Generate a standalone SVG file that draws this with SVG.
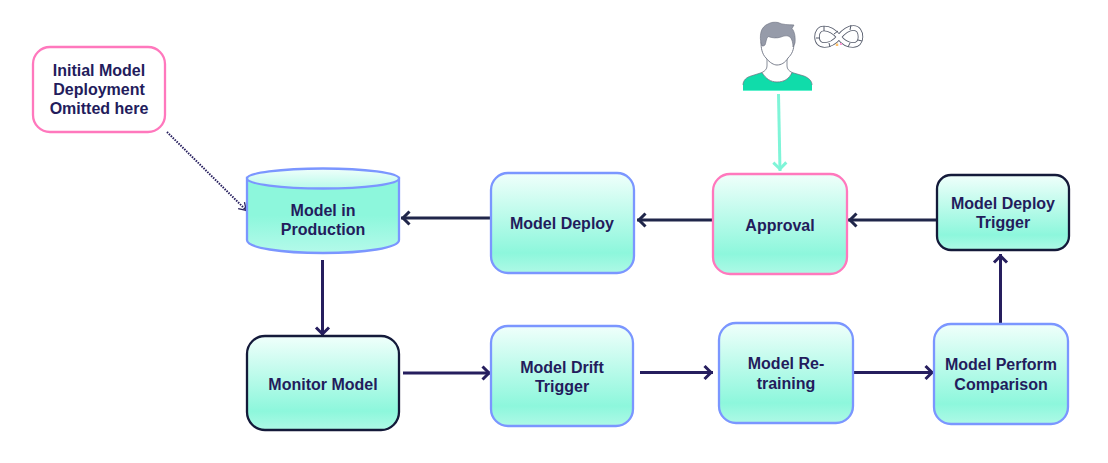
<svg xmlns="http://www.w3.org/2000/svg" width="1108" height="463" viewBox="0 0 1108 463">
<style>
.t{font-family:"Liberation Sans",Arial,sans-serif;font-weight:700;font-size:16px;fill:#231c5c;text-anchor:middle}
.n{fill:url(#g);stroke-width:2.3}
.b{stroke:#7b96ff}.k{stroke:#141a3a}.p{stroke:#ff78bd}
.c{fill:none;stroke:#261e5e;stroke-width:3}
.e{fill:none;stroke:#20264a;stroke-width:3}
</style>
<defs>
<linearGradient id="g" x1="0" y1="0" x2="0" y2="1">
<stop offset="0" stop-color="#f0fffb"/><stop offset=".8" stop-color="#8df7dc"/><stop offset="1" stop-color="#aef9e6"/>
</linearGradient>
<linearGradient id="h" x1="0" y1="0" x2="0" y2="1">
<stop offset="0" stop-color="#8df7dc"/><stop offset=".5" stop-color="#8df7dc"/><stop offset="1" stop-color="#b4faea"/>
</linearGradient>
<linearGradient id="i" x1="0" y1="0" x2="0" y2="1">
<stop offset="0" stop-color="#f0fffb"/><stop offset="1" stop-color="#b8faea"/>
</linearGradient>
<marker id="a" markerUnits="userSpaceOnUse" markerWidth="18" markerHeight="20" refX="13" refY="10" orient="auto"><path d="M4.500 3.500L11 10L4.500 16.500" fill="none" stroke="#261e5e" stroke-width="3"/></marker>
<marker id="f" markerUnits="userSpaceOnUse" markerWidth="18" markerHeight="20" refX="13" refY="10" orient="auto"><path d="M4.500 3.500L11 10L4.500 16.500" fill="none" stroke="#20264a" stroke-width="3"/></marker>
<marker id="m" markerUnits="userSpaceOnUse" markerWidth="18" markerHeight="20" refX="13" refY="10" orient="auto"><path d="M4.500 3.500L11 10L4.500 16.500" fill="none" stroke="#7ff5d8" stroke-width="3"/></marker>
<marker id="d" markerUnits="userSpaceOnUse" markerWidth="14" markerHeight="14" refX="11" refY="7" orient="auto"><path d="M3 2.500L10 7L3 11.500" fill="none" stroke="#261e5e" stroke-width="1.300"/></marker>
</defs>
<g id="connectors">
<path class="e" d="M491 218H401" marker-end="url(#f)"/>
<path class="e" d="M713 220H637" marker-end="url(#f)"/>
<path class="e" d="M937 220H848" marker-end="url(#f)"/>
<path class="c" d="M1000.500 324V254" marker-end="url(#a)"/>
<path class="c" d="M322.500 260V336" marker-end="url(#a)"/>
<path class="c" d="M403 373H491" marker-end="url(#a)"/>
<path class="c" d="M640 372.500H713" marker-end="url(#a)"/>
<path class="c" d="M854 372.500H934" marker-end="url(#a)"/>
<path d="M778.500 94L780 171" fill="none" stroke="#7ff5d8" stroke-width="3" marker-end="url(#m)"/>
<path d="M167 132L247 211" fill="none" stroke="#261e5e" stroke-width="2" stroke-dasharray="1.500 1.200" marker-end="url(#d)"/>
</g>
<g id="note"><rect x="33" y="47" width="132" height="85" rx="17" fill="#fff" stroke="#ff78bd" stroke-width="2.300"/>
<text class="t" x="99" y="76">Initial Model</text><text class="t" x="99" y="95">Deployment</text><text class="t" x="99" y="114">Omitted here</text></g>
<g id="production">
<path d="M247 178V240C247 248 282 253 323 253S399 248 399 240V178Z" fill="url(#h)" stroke="#7b96ff" stroke-width="2.300"/>
<ellipse cx="323" cy="178.500" rx="76" ry="10" fill="url(#i)" stroke="#7b96ff" stroke-width="2.300"/>
<text class="t" x="323" y="216">Model in</text><text class="t" x="323" y="235">Production</text></g>
<g id="deploy"><rect class="n b" x="491" y="173" width="143" height="100" rx="17"/><text class="t" x="562" y="229">Model Deploy</text></g>
<g id="approval"><rect class="n p" x="713" y="174" width="134" height="100" rx="17"/><text class="t" x="780" y="231">Approval</text></g>
<g id="trigger"><rect class="n k" x="937" y="175" width="132" height="75" rx="14"/><text class="t" x="1003" y="209">Model Deploy</text><text class="t" x="1003" y="228">Trigger</text></g>
<g id="monitor"><rect class="n k" x="247" y="336" width="152" height="94" rx="18"/><text class="t" x="323" y="390">Monitor Model</text></g>
<g id="drift"><rect class="n b" x="491" y="326" width="142" height="100" rx="17"/><text class="t" x="562" y="373">Model Drift</text><text class="t" x="562" y="392">Trigger</text></g>
<g id="retrain"><rect class="n b" x="719" y="323" width="134" height="100" rx="17"/><text class="t" x="786" y="369">Model Re-</text><text class="t" x="786" y="389">training</text></g>
<g id="compare"><rect class="n b" x="934" y="324" width="134" height="100" rx="17"/><text class="t" x="1001" y="370">Model Perform</text><text class="t" x="1001" y="390">Comparison</text></g>
<g id="person">
<path d="M743 90V85C743 80 747 77 751 76L762 72.500C766 79 771 82 777 82C784 82 789 79 792 72.500L804 76C809 78 812 81 812 85V90Z" fill="#10dcaa"/>
<path d="M743 90.500H812" stroke="#5ef0cc" stroke-width="1"/>
<path d="M767 58V66C767 69 765 71 762 72.500C766 79 771 82 777 82C784 82 789 79 792 72.500C789 71 787 69 787 66V58Z" fill="#fff" stroke="#6b7180" stroke-width=".8"/>
<path d="M743 85C743 80 747 77 751 76L762 72.500M792 72.500L804 76C809 78 812 81 812 85" fill="none" stroke="#6b7180" stroke-width=".7"/>
<path d="M761 42C761 48 762 54 766 58C770 63 774 65 777 65C781 65 785 63 788 58C792 54 794 50 794 42L790 34H766Z" fill="#fff" stroke="#6b7180" stroke-width=".9"/>
<path d="M762 46C760 41 760 36 761 32C762 28 765 25 768 24C771 22 775 22 778 22.500C783 25 788 24.500 794 25L792 28.500C795 32 795.500 38 795 43L793 47C793 43 792 39 790 37C787 35 784 36 781 37C777 38.500 772 38 768 36.500C766 39 766 43 765 45C764 46 763 46 762 46Z" fill="#969ba9" stroke="#6b7180" stroke-width=".6"/>
</g>
<g id="infinity" fill="none" stroke-linecap="butt">
<path d="M839 37C834 31 829 28.500 824 28.500C819.500 28.500 817 32 817 37C817 42 820 45 824.500 45C829.500 45 834 43 839 37C844 31 848 28 853.500 28C858 28 860.500 32 860.500 37C860.500 42 857.500 45 853 45C848 45 843.500 43 839 37Z" stroke="#555b6b" stroke-width="5.500"/>
<path d="M839 37C834 31 829 28.500 824 28.500C819.500 28.500 817 32 817 37C817 42 820 45 824.500 45C829.500 45 834 43 839 37C844 31 848 28 853.500 28C858 28 860.500 32 860.500 37C860.500 42 857.500 45 853 45C848 45 843.500 43 839 37Z" stroke="#fff" stroke-width="3.800"/>
<path d="M824 26v5M816 38h4M829 43l1 4M851 25l-1 5M858 40l4 1M850 43l-2 4M834 34l4-3" stroke="#555b6b" stroke-width="1"/>
<path d="M837 43.500v2.500" stroke="#ffc36b" stroke-width="2.500"/><path d="M840 44h2" stroke="#ff9ad5" stroke-width="2"/>
</g>
</svg>
